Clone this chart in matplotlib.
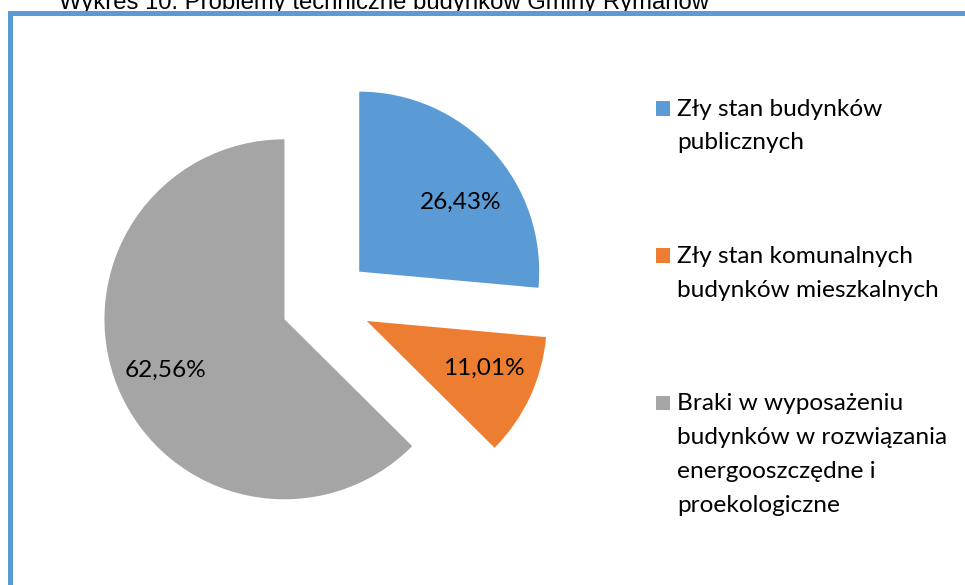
import matplotlib
matplotlib.use("Agg")
import matplotlib.pyplot as plt
from matplotlib.patches import Rectangle

# ── Dane ─────────────────────────────────────────────────────────────────────
TITLE = "Wykres 10. Problemy techniczne budynków Gminy Rymanów"
CATEGORIES = [
    "Zły stan budynków\npublicznych",
    "Zły stan komunalnych\nbudynków mieszkalnych",
    "Braki w wyposażeniu\nbudynków w rozwiązania\nenergooszczędne i\nproekologiczne",
]
SHARES = [26.43, 11.01, 62.56]
COLORS = ["#5B9BD5", "#ED7D31", "#A5A5A5"]

# ── Układ (piksele) ──────────────────────────────────────────────────────────
W, H = 965, 585
CX, CY = 326, 302          # środek koła (od góry)
R = 180                    # promień
EXPLODE = 0.25             # odsunięcie wycinków jako ułamek promienia
FRAME_COLOR = "#5B9BD5"
FONT = "Lato"
FS = 17.6
# korekta położenia etykiet procentowych (jak "best fit" w Excelu),
# px w układzie ekranu (dy > 0 = w dół)
LABEL_SHIFT = [(8, 16), (3, -6), (-3, 3)]


def pct_fmt(p):
    return f"{p:.2f}%".replace(".", ",")


fig = plt.figure(figsize=(W / 100, H / 100), dpi=100)
ax = fig.add_axes([0, 0, 1, 1])

wedges, texts, autotexts = ax.pie(
    SHARES, colors=COLORS, radius=R, center=(CX, H - CY),
    explode=[EXPLODE * R] * len(SHARES), startangle=90, counterclock=False,
    autopct=pct_fmt, pctdistance=0.7,
    textprops=dict(fontsize=FS, family=FONT, color="black"),
    wedgeprops=dict(linewidth=0),
)
for t, (dx, dy) in zip(autotexts, LABEL_SHIFT):
    x, y = t.get_position()
    t.set_position((x + dx, y - dy))

ax.set_xlim(0, W)
ax.set_ylim(0, H)
ax.set_aspect("auto")
ax.axis("off")

# legenda rysowana ręcznie: kwadrat przy pierwszej linii opisu
LINE_STEP = 33.7
ENTRY_GAP = 80
base = 115.6
for label, col in zip(CATEGORIES, COLORS):
    lines = label.split("\n")
    ax.add_patch(Rectangle((655.5, H - base), 14.6, 14.6, color=col, lw=0))
    for i, ln in enumerate(lines):
        ax.text(677, H - base - i * LINE_STEP, ln, fontsize=FS, family=FONT,
                color="black", va="baseline", ha="left")
    base += len(lines) * LINE_STEP + ENTRY_GAP

# tytuł (ucięty u góry jak w oryginale)
ax.text(59, H - 8.5, TITLE, fontsize=17.2, family="Liberation Sans",
        color="black", va="baseline", ha="left", clip_on=False)

# niebieska ramka wykresu
ax.add_patch(Rectangle((10, -50), 2000, H - 13.3 + 50, fill=False,
                       edgecolor=FRAME_COLOR, linewidth=5 * 0.72,
                       joinstyle="miter", zorder=5, clip_on=False))

fig.savefig("out.png", dpi=100)
